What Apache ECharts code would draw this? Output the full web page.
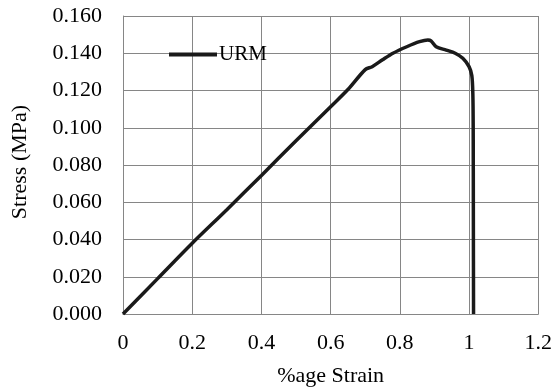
<!DOCTYPE html>
<html>
<head>
<meta charset="utf-8">
<script src="https://cdn.jsdelivr.net/npm/echarts@6/dist/echarts.min.js"></script>
<style>
html,body{margin:0;padding:0;background:#fff;}
#chart{width:555px;height:392px;}
</style>
</head>
<body>
<div id="chart"></div>
<script>
// URM stress-strain curve
var strain = [0, 0.1, 0.2, 0.3, 0.4, 0.5, 0.6, 0.65, 0.70, 0.72, 0.75, 0.78, 0.82, 0.857, 0.881, 0.89, 0.905, 0.934, 0.96, 0.982, 1.0, 1.008, 1.011, 1.012, 1.0125, 1.013];
var stress = [0, 0.019, 0.038, 0.056, 0.0744, 0.093, 0.1113, 0.1205, 0.1312, 0.1328, 0.1365, 0.140, 0.1435, 0.1462, 0.1471, 0.1467, 0.1435, 0.1417, 0.140, 0.1373, 0.1328, 0.128, 0.118, 0.10, 0.05, 0];

var points = [];
for (var i = 0; i < strain.length; i++) {
	points.push([strain[i], stress[i]]);
}

var font = 'Liberation Serif';
var chart = echarts.init(document.getElementById('chart'));

var option = {
	animation: false,
	backgroundColor: '#fff',
	grid: {left: 123, right: 16, top: 16, bottom: 78},
	legend: {
		data: ['URM'],
		left: 164,
		top: 39,
		icon: 'rect',
		itemWidth: 48,
		itemHeight: 4,
		textStyle: {fontFamily: font, fontSize: 21, color: '#000', padding: [0, 0, 0, -3]}
	},
	xAxis: {
		type: 'value',
		min: 0,
		max: 1.2,
		interval: 0.2,
		name: '%age Strain',
		nameLocation: 'middle',
		nameGap: 51,
		nameTextStyle: {fontFamily: font, fontSize: 22, color: '#000'},
		axisLine: {show: true, lineStyle: {color: '#868686', width: 1}},
		axisTick: {show: false},
		axisLabel: {
			margin: 18,
			fontFamily: font, fontSize: 22, color: '#000',
			formatter: function (v) { return String(Math.round(v * 10) / 10); }
		},
		splitLine: {show: true, lineStyle: {color: '#868686', width: 1}}
	},
	yAxis: {
		type: 'value',
		min: 0,
		max: 0.16,
		interval: 0.02,
		name: 'Stress (MPa)',
		nameLocation: 'middle',
		nameGap: 92,
		nameTextStyle: {fontFamily: font, fontSize: 22, color: '#000', padding: [0, 0, 0, 6]},
		axisLine: {show: true, lineStyle: {color: '#868686', width: 1}},
		axisTick: {show: false},
		axisLabel: {
			margin: 21,
			fontFamily: font, fontSize: 22, color: '#000',
			formatter: function (v) { return v.toFixed(3); }
		},
		splitLine: {show: true, lineStyle: {color: '#868686', width: 1}}
	},
	series: [
		{
			name: 'URM',
			type: 'line',
			data: points,
			showSymbol: false,
			smooth: 0.3,
			color: '#1a1a1a',
			lineStyle: {width: 3.5, color: '#1a1a1a'}
		}
	]
};

chart.setOption(option);
</script>
</body>
</html>
